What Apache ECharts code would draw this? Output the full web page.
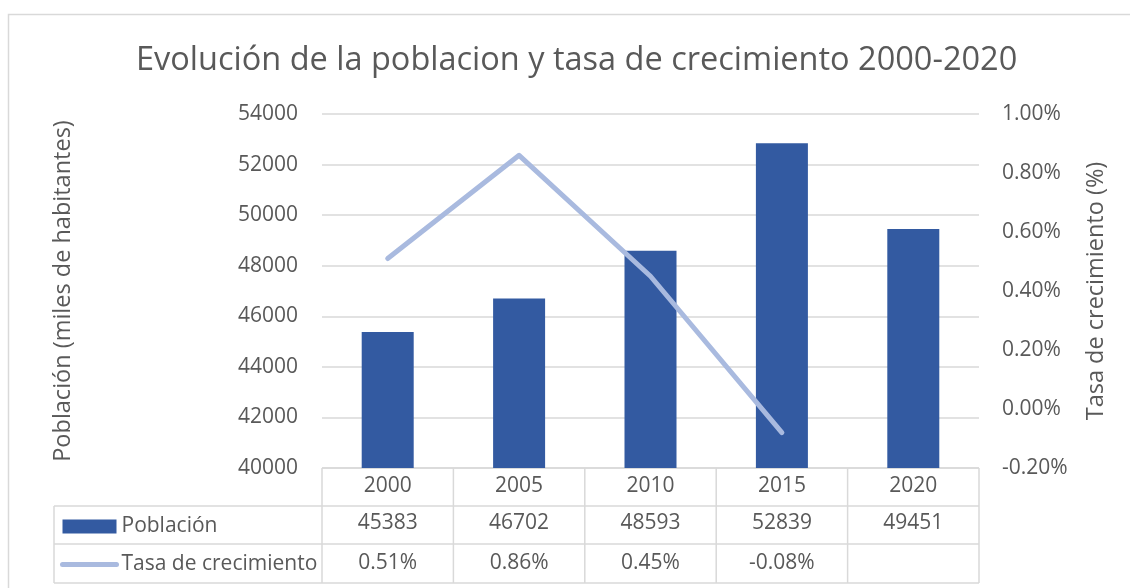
<!DOCTYPE html>
<html>
<head>
<meta charset="utf-8">
<script src="https://cdn.jsdelivr.net/npm/echarts@6/dist/echarts.min.js"></script>
<style>
  html, body { margin: 0; padding: 0; background: #fff; }
  #chart { width: 1130px; height: 588px; }
</style>
</head>
<body>
<div id="chart"></div>
<script>
// Datos
var anios = ['2000', '2005', '2010', '2015', '2020'];
var poblacion = [45383, 46702, 48593, 52839, 49451];
var tasa = [0.51, 0.86, 0.45, -0.08, null];

var gris = '#595959';
var lineaGris = '#d9d9d9';
var fuente = 'Open Sans';
var tam = 21;
var tamNombre = 23.5;

var chart = echarts.init(document.getElementById('chart'));

function fmtPct(v) {
    return v.toFixed(2) + '%';
}

var option = {
    backgroundColor: '#fff',
    animation: false,
    textStyle: { fontFamily: fuente },
    title: {
        text: 'Evolución de la poblacion y tasa de crecimiento 2000-2020',
        left: 131,
        top: 39,
        textStyle: { fontSize: 32.5, fontWeight: 'normal', color: gris, fontFamily: fuente }
    },
    legend: {
        orient: 'vertical',
        left: 55,
        top: 511,
        itemGap: 17,
        itemWidth: 54,
        itemHeight: 14,
        textStyle: { fontSize: tam, color: gris, fontFamily: fuente },
        data: [
            { name: 'Población', icon: 'rect' },
            {
                name: 'Tasa de crecimiento',
                itemStyle: { opacity: 0 },
                lineStyle: { width: 5, color: '#a9badf', cap: 'round' }
            }
        ]
    },
    grid: { left: 322, right: 151, top: 114, bottom: 120 },
    xAxis: [
        {
            type: 'category',
            data: anios,
            position: 'bottom',
            axisLine: { show: false },
            axisTick: { show: false },
            axisLabel: { fontSize: tam, color: gris, margin: 8 }
        },
        {
            type: 'category',
            data: anios,
            position: 'bottom',
            offset: 38,
            axisLine: { show: false },
            axisTick: { show: false },
            axisLabel: {
                fontSize: tam, color: gris, margin: 7,
                formatter: function (v, i) { return String(poblacion[i]); }
            }
        },
        {
            type: 'category',
            data: anios,
            position: 'bottom',
            offset: 77,
            axisLine: { show: false },
            axisTick: { show: false },
            axisLabel: {
                fontSize: tam, color: gris, margin: 8,
                formatter: function (v, i) { return tasa[i] == null ? '' : fmtPct(tasa[i]); }
            }
        }
    ],
    yAxis: [
        {
            type: 'value',
            min: 40000,
            max: 54000,
            interval: 2000,
            name: 'Población (miles de habitantes)',
            nameLocation: 'middle',
            nameRotate: 90,
            nameGap: 247,
            nameTextStyle: { fontSize: tamNombre, color: gris },
            axisLine: { show: false },
            axisTick: { show: false },
            axisLabel: {
                fontSize: tam, color: gris, margin: 24,
                formatter: function (v) { return String(v); }
            },
            splitLine: { lineStyle: { color: lineaGris, width: 1.5 } }
        },
        {
            type: 'value',
            position: 'right',
            min: -0.2,
            max: 1.0,
            interval: 0.2,
            name: 'Tasa de crecimiento (%)',
            nameLocation: 'middle',
            nameRotate: 90,
            nameGap: 105,
            nameTextStyle: { fontSize: tamNombre, color: gris },
            axisLine: { show: false },
            axisTick: { show: false },
            splitLine: { show: false },
            axisLabel: { fontSize: tam, color: gris, margin: 23, formatter: fmtPct }
        }
    ],
    series: [
        {
            name: 'Población',
            type: 'bar',
            xAxisIndex: 0,
            yAxisIndex: 0,
            barWidth: 52,
            itemStyle: { color: '#335aa1' },
            data: poblacion
        },
        {
            name: 'Tasa de crecimiento',
            type: 'line',
            xAxisIndex: 0,
            yAxisIndex: 1,
            symbol: 'none',
            lineStyle: { color: '#a9badf', width: 5, cap: 'round', join: 'round' },
            itemStyle: { color: '#a9badf' },
            data: tasa
        }
    ]
};

chart.setOption(option);

// Tabla de datos bajo el eje (líneas), a partir de las escalas del gráfico
var c0 = chart.convertToPixel({ xAxisIndex: 0 }, anios[0]);
var c1 = chart.convertToPixel({ xAxisIndex: 0 }, anios[1]);
var colW = c1 - c0;
var xIni = c0 - colW / 2;
var xFin = xIni + colW * anios.length;
var yTop = chart.convertToPixel({ yAxisIndex: 0 }, 40000);
var filas = [yTop, yTop + 38, yTop + 76, yTop + 115];
var xLeyenda = 54;

var lineas = [];
function seg(x1, y1, x2, y2) {
    lineas.push({
        type: 'line',
        shape: { x1: x1, y1: y1, x2: x2, y2: y2 },
        style: { stroke: lineaGris, lineWidth: 1.5 },
        silent: true
    });
}
seg(xIni, filas[0], xFin, filas[0]);
for (var r = 1; r < filas.length; r++) {
    seg(xLeyenda, filas[r], xFin, filas[r]);
}
seg(xLeyenda, filas[1], xLeyenda, filas[3]);
for (var k = 0; k <= anios.length; k++) {
    seg(xIni + k * colW, filas[0], xIni + k * colW, filas[3]);
}
// borde exterior del gráfico
lineas.push({
    type: 'rect',
    shape: { x: 8.5, y: 14.5, width: 1140, height: 600 },
    style: { fill: null, stroke: lineaGris, lineWidth: 1.5 },
    silent: true
});

chart.setOption({ graphic: lineas });
</script>
</body>
</html>
